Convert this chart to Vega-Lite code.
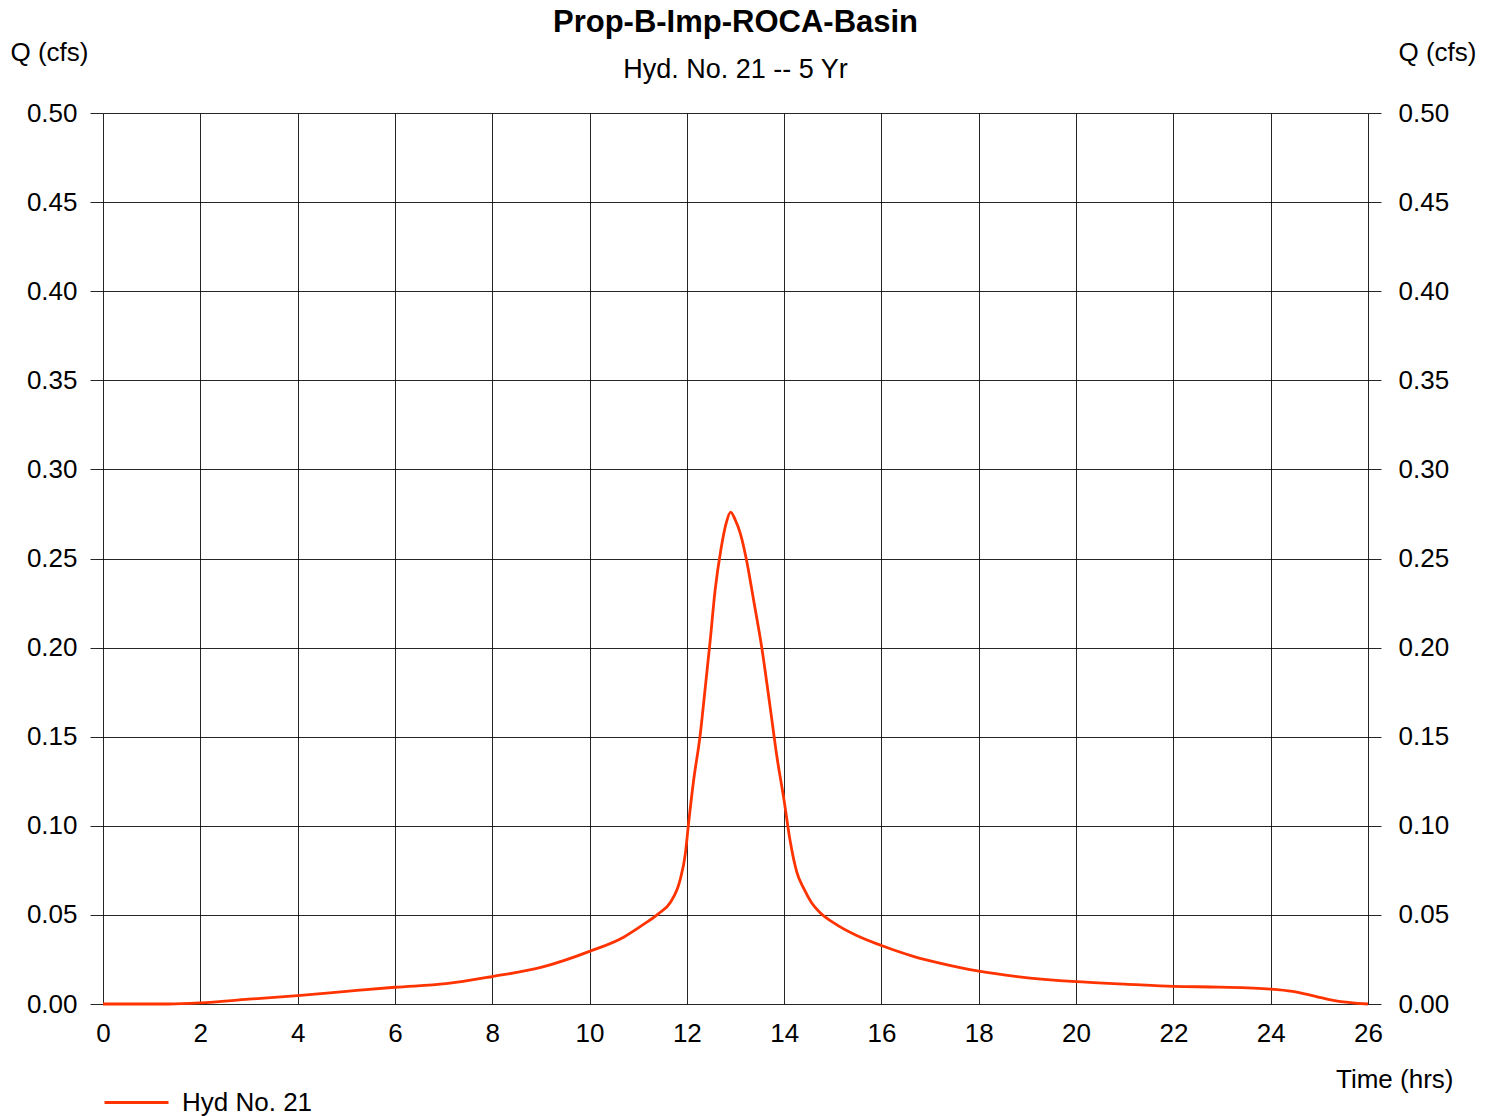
{
  "$schema": "https://vega.github.io/schema/vega-lite/v6.json",
  "autosize": "none",
  "width": 1265,
  "height": 891,
  "padding": {"left": 103, "top": 113, "right": 129, "bottom": 112},
  "background": "white",
  "config": {
    "font": "Liberation Sans",
    "view": {"stroke": null},
    "axis": {"labelFont": "Liberation Sans", "titleFont": "Liberation Sans", "labelColor": "black", "titleColor": "black", "domain": false}
  },
  "title": {
    "text": "Prop-B-Imp-ROCA-Basin",
    "subtitle": "Hyd. No. 21 -- 5 Yr",
    "anchor": "middle",
    "font": "Liberation Sans",
    "fontSize": 31,
    "fontWeight": "bold",
    "color": "black",
    "subtitleFont": "Liberation Sans",
    "subtitleFontSize": 27,
    "subtitleColor": "black",
    "subtitlePadding": 18,
    "offset": -45
  },
  "data": {
    "values": [
      {"t": 0, "q": 0, "s": "Hyd No. 21"},
      {"t": 1.36, "q": 0, "s": "Hyd No. 21"},
      {"t": 2, "q": 0.0006, "s": "Hyd No. 21"},
      {"t": 3, "q": 0.0027, "s": "Hyd No. 21"},
      {"t": 4, "q": 0.0047, "s": "Hyd No. 21"},
      {"t": 5, "q": 0.0071, "s": "Hyd No. 21"},
      {"t": 6, "q": 0.0094, "s": "Hyd No. 21"},
      {"t": 7.05, "q": 0.0114, "s": "Hyd No. 21"},
      {"t": 8, "q": 0.0154, "s": "Hyd No. 21"},
      {"t": 9, "q": 0.0205, "s": "Hyd No. 21"},
      {"t": 10, "q": 0.0295, "s": "Hyd No. 21"},
      {"t": 10.7, "q": 0.0375, "s": "Hyd No. 21"},
      {"t": 11.1, "q": 0.0445, "s": "Hyd No. 21"},
      {"t": 11.42, "q": 0.0507, "s": "Hyd No. 21"},
      {"t": 11.66, "q": 0.057, "s": "Hyd No. 21"},
      {"t": 11.86, "q": 0.0695, "s": "Hyd No. 21"},
      {"t": 11.97, "q": 0.0845, "s": "Hyd No. 21"},
      {"t": 12.03, "q": 0.1, "s": "Hyd No. 21"},
      {"t": 12.14, "q": 0.1257, "s": "Hyd No. 21"},
      {"t": 12.27, "q": 0.15, "s": "Hyd No. 21"},
      {"t": 12.38, "q": 0.178, "s": "Hyd No. 21"},
      {"t": 12.48, "q": 0.204, "s": "Hyd No. 21"},
      {"t": 12.58, "q": 0.232, "s": "Hyd No. 21"},
      {"t": 12.7, "q": 0.255, "s": "Hyd No. 21"},
      {"t": 12.81, "q": 0.27, "s": "Hyd No. 21"},
      {"t": 12.9, "q": 0.276, "s": "Hyd No. 21"},
      {"t": 12.99, "q": 0.272, "s": "Hyd No. 21"},
      {"t": 13.1, "q": 0.264, "s": "Hyd No. 21"},
      {"t": 13.22, "q": 0.25, "s": "Hyd No. 21"},
      {"t": 13.37, "q": 0.227, "s": "Hyd No. 21"},
      {"t": 13.54, "q": 0.2, "s": "Hyd No. 21"},
      {"t": 13.71, "q": 0.167, "s": "Hyd No. 21"},
      {"t": 13.85, "q": 0.139, "s": "Hyd No. 21"},
      {"t": 14, "q": 0.114, "s": "Hyd No. 21"},
      {"t": 14.12, "q": 0.092, "s": "Hyd No. 21"},
      {"t": 14.26, "q": 0.074, "s": "Hyd No. 21"},
      {"t": 14.4, "q": 0.065, "s": "Hyd No. 21"},
      {"t": 14.56, "q": 0.057, "s": "Hyd No. 21"},
      {"t": 14.73, "q": 0.0515, "s": "Hyd No. 21"},
      {"t": 15.02, "q": 0.0455, "s": "Hyd No. 21"},
      {"t": 15.49, "q": 0.0384, "s": "Hyd No. 21"},
      {"t": 16, "q": 0.0328, "s": "Hyd No. 21"},
      {"t": 16.67, "q": 0.0266, "s": "Hyd No. 21"},
      {"t": 17.22, "q": 0.0228, "s": "Hyd No. 21"},
      {"t": 18, "q": 0.0184, "s": "Hyd No. 21"},
      {"t": 18.79, "q": 0.0154, "s": "Hyd No. 21"},
      {"t": 20, "q": 0.0125, "s": "Hyd No. 21"},
      {"t": 21, "q": 0.0112, "s": "Hyd No. 21"},
      {"t": 22, "q": 0.0099, "s": "Hyd No. 21"},
      {"t": 22.95, "q": 0.0095, "s": "Hyd No. 21"},
      {"t": 24, "q": 0.0084, "s": "Hyd No. 21"},
      {"t": 24.45, "q": 0.0071, "s": "Hyd No. 21"},
      {"t": 24.92, "q": 0.0043, "s": "Hyd No. 21"},
      {"t": 25.31, "q": 0.0019, "s": "Hyd No. 21"},
      {"t": 26, "q": 0, "s": "Hyd No. 21"}
    ]
  },
  "encoding": {
    "x": {
      "field": "t", "type": "quantitative",
      "scale": {"domain": [0, 26], "nice": false, "zero": false},
      "axis": {
        "values": [0, 2, 4, 6, 8, 10, 12, 14, 16, 18, 20, 22, 24, 26],
        "format": "d",
        "ticks": false,
        "labelFlush": false,
        "grid": true, "gridColor": "black", "gridOpacity": 0.85, "gridWidth": 1,
        "labelFontSize": 26, "labelPadding": 16,
        "title": "Time (hrs)", "titleFontSize": 26, "titleFontWeight": "normal",
        "titleAngle": 0, "titleAlign": "right", "titleBaseline": "middle",
        "titleAnchor": null, "titleX": 1350, "titleY": 75
      }
    }
  },
  "layer": [
    {
      "mark": {"type": "line", "strokeWidth": 2.8, "interpolate": "monotone"},
      "encoding": {
        "y": {
          "field": "q", "type": "quantitative",
          "scale": {"domain": [0, 0.5], "nice": false},
          "axis": {
            "orient": "left",
            "values": [0, 0.05, 0.1, 0.15, 0.2, 0.25, 0.3, 0.35, 0.4, 0.45, 0.5],
            "format": ".2f",
            "grid": true, "gridColor": "black", "gridOpacity": 0.85, "gridWidth": 1,
            "ticks": true, "tickSize": 13, "tickColor": "black", "tickOpacity": 0.85,
            "labelFontSize": 26, "labelPadding": 13,
            "title": "Q (cfs)", "titleFontSize": 26, "titleFontWeight": "normal",
            "titleAngle": 0, "titleAlign": "left", "titleBaseline": "middle",
            "titleAnchor": null, "titleX": -93, "titleY": -61
          }
        },
        "color": {
          "field": "s", "type": "nominal",
          "scale": {"range": ["#ff3300"]},
          "legend": {
            "title": null,
            "orient": "none",
            "legendX": 0,
            "legendY": 956,
            "symbolType": "stroke",
            "symbolSize": 4096,
            "symbolStrokeWidth": 3,
            "labelFontSize": 26,
            "labelFont": "Liberation Sans",
            "labelColor": "black",
            "labelOffset": 12,
            "padding": 0
          }
        }
      }
    },
    {
      "mark": {"type": "line", "strokeOpacity": 0},
      "encoding": {
        "y": {
          "field": "q", "type": "quantitative",
          "axis": {
            "orient": "right",
            "values": [0, 0.05, 0.1, 0.15, 0.2, 0.25, 0.3, 0.35, 0.4, 0.45, 0.5],
            "format": ".2f",
            "grid": false,
            "ticks": true, "tickSize": 13, "tickColor": "black", "tickOpacity": 0.85,
            "labelFontSize": 26, "labelPadding": 17,
            "title": "Q (cfs)", "titleFontSize": 26, "titleFontWeight": "normal",
            "titleAngle": 0, "titleAlign": "left", "titleBaseline": "middle",
            "titleAnchor": null, "titleX": 30, "titleY": -61
          }
        }
      }
    }
  ],
  "resolve": {"axis": {"y": "independent"}}
}
